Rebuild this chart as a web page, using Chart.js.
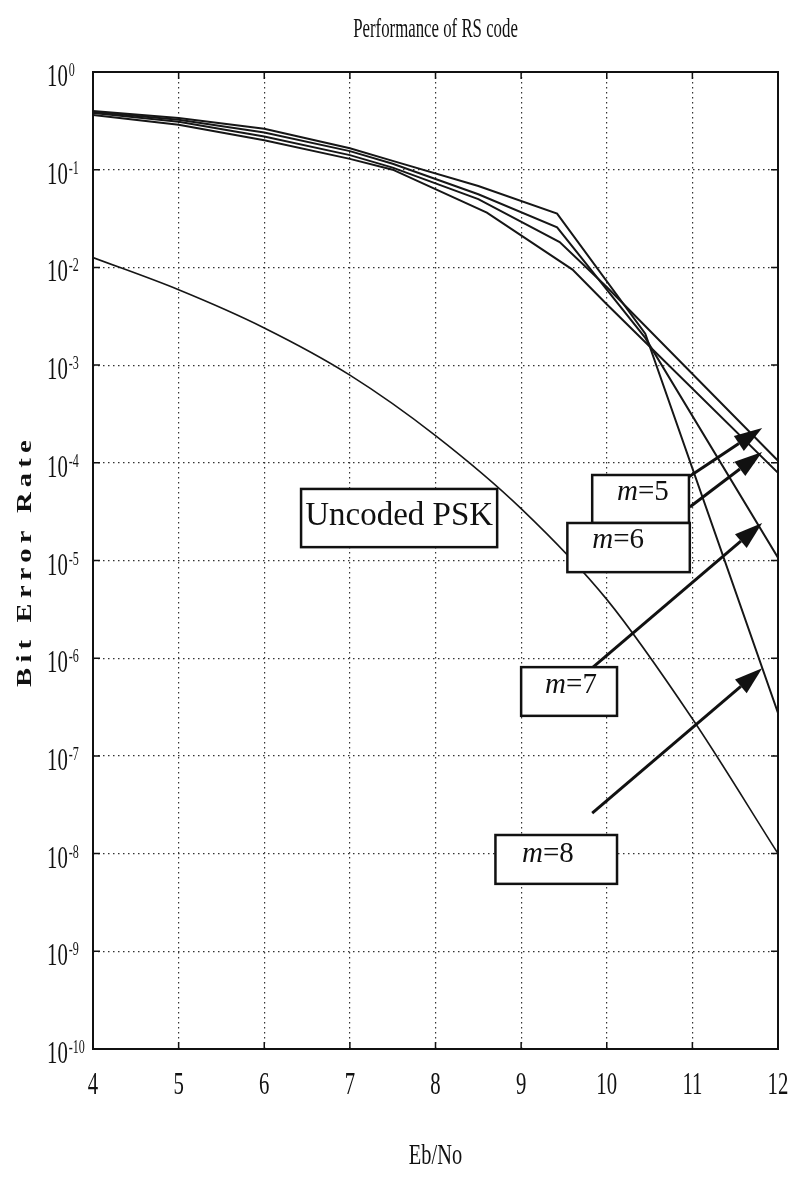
<!DOCTYPE html>
<html>
<head>
<meta charset="utf-8">
<title>Performance of RS code</title>
<script src="https://cdn.jsdelivr.net/npm/chart.js@4.4.1/dist/chart.umd.min.js"></script>
<style>
  html, body { margin: 0; padding: 0; background: #fff; }
</style>
</head>
<body>
<canvas id="rs-chart" width="791" height="1177"></canvas>
<script>
// axis ticks
var xTicks = [4, 5, 6, 7, 8, 9, 10, 11, 12];
var yExponents = [0, -1, -2, -3, -4, -5, -6, -7, -8, -9, -10];

// uncoded PSK
var uncodedEbNo = [4, 5, 6, 7, 8, 9, 10, 11, 12];
var uncodedBer = [1.26e-2, 5.9e-3, 2.4e-3, 7.9e-4, 1.9e-4, 3.4e-5, 4.0e-6, 2.4e-7, 1.0e-8];

// RS coded, m = 5..8
var m5EbNo = [4, 5, 6, 7, 7.5, 8.6, 9.6, 10, 12];
var m5Ber = [0.363, 0.288, 0.200, 0.129, 0.100, 3.63e-2, 9.5e-3, 4.2e-3, 7.9e-5];
var m6EbNo = [4, 5, 6, 7, 7.5, 8.5, 9.45, 10, 12];
var m6Ber = [0.380, 0.309, 0.219, 0.141, 0.105, 5.0e-2, 1.82e-2, 6.3e-3, 1.05e-4];
var m7EbNo = [4, 5, 6, 7, 7.5, 8.5, 9.42, 10.45, 12];
var m7Ber = [0.389, 0.324, 0.240, 0.155, 0.115, 5.6e-2, 2.57e-2, 1.9e-3, 1.07e-5];
var m8EbNo = [4, 5, 6, 7, 7.5, 8.5, 9.42, 10.45, 12];
var m8Ber = [0.398, 0.339, 0.263, 0.166, 0.123, 6.8e-2, 3.55e-2, 2.1e-3, 2.75e-7];

// annotation boxes / labels / arrows, in data units (Eb/No, BER)
var boxes = [
  {x0: 6.43, x1: 8.72, y0: 5.4e-5, y1: 1.37e-5},
  {x0: 9.83, x1: 10.96, y0: 7.5e-5, y1: 2.42e-5},
  {x0: 9.54, x1: 10.97, y0: 2.42e-5, y1: 7.6e-6},
  {x0: 9.0, x1: 10.12, y0: 8.1e-7, y1: 2.57e-7},
  {x0: 8.70, x1: 10.12, y0: 1.55e-8, y1: 4.9e-9}
];
var labels = [
  {text: 'Uncoded PSK', x: 7.575, y: 2.31e-5, center: true},
  {m: '5', x: 10.12, y: 4.16e-5},
  {m: '6', x: 9.83, y: 1.34e-5},
  {m: '7', x: 9.28, y: 4.4e-7},
  {m: '8', x: 9.01, y: 8.2e-9}
];
var arrows = [
  {x0: 10.96, y0: 7.2e-5, x1: 11.815, y1: 2.27e-4},
  {x0: 10.97, y0: 3.53e-5, x1: 11.815, y1: 1.29e-4},
  {x0: 9.84, y0: 8.1e-7, x1: 11.815, y1: 2.42e-5},
  {x0: 9.83, y0: 2.6e-8, x1: 11.815, y1: 7.9e-7}
];

function pts(xs, ys) {
  return xs.map(function(x, i) { return {x: x, y: ys[i]}; });
}

function curve(label, xs, ys, w, smooth) {
  return {
    label: label,
    data: pts(xs, ys),
    showLine: true,
    borderColor: '#161616',
    borderWidth: w,
    pointRadius: 0,
    fill: false,
    cubicInterpolationMode: smooth ? 'monotone' : 'default',
    tension: 0
  };
}

// narrow serif text (the original uses a condensed Times)
function narrowText(c, str, x, y, font, sx, align) {
  c.save();
  c.font = font;
  c.textAlign = align || 'left';
  c.textBaseline = 'alphabetic';
  c.translate(x, y);
  c.scale(sx, 1);
  c.fillText(str, 0, 0);
  var w = c.measureText(str).width * sx;
  c.restore();
  return w;
}

var decor = {
  id: 'decor',
  afterDraw: function(chart) {
    var c = chart.ctx, a = chart.chartArea;
    var xs = chart.scales.x, ys = chart.scales.y;
    var serif = '"Liberation Serif", "Times New Roman", serif';
    c.save();
    c.fillStyle = '#111';
    c.strokeStyle = '#111';

    // frame + short solid tick stubs
    c.lineWidth = 2;
    c.strokeRect(a.left, a.top, a.right - a.left, a.bottom - a.top);
    c.lineWidth = 1.5;
    c.beginPath();
    xs.ticks.forEach(function(t) {
      var px = xs.getPixelForValue(t.value);
      c.moveTo(px, a.bottom); c.lineTo(px, a.bottom - 7);
      c.moveTo(px, a.top); c.lineTo(px, a.top + 7);
    });
    ys.ticks.forEach(function(t) {
      var py = ys.getPixelForValue(t.value);
      c.moveTo(a.left, py); c.lineTo(a.left + 7, py);
      c.moveTo(a.right, py); c.lineTo(a.right - 7, py);
    });
    c.stroke();

    // tick labels
    ys.ticks.forEach(function(t) {
      var py = ys.getPixelForValue(t.value);
      var e = Math.round(Math.log10(t.value));
      var w = narrowText(c, '10', 47, py + 14, '31px ' + serif, 0.67);
      narrowText(c, e === 0 ? '0' : '-' + Math.abs(e), 47 + w + 1, py + 4, '18px ' + serif, 0.67);
    });
    xs.ticks.forEach(function(t) {
      var px = xs.getPixelForValue(t.value);
      narrowText(c, String(t.value), px, a.bottom + 45, '31px ' + serif, 0.67, 'center');
    });

    // titles
    var mid = (a.left + a.right) / 2;
    narrowText(c, 'Performance of RS code', mid, 37, '28px ' + serif, 0.6, 'center');
    narrowText(c, 'Eb/No', mid, 1164, '30px ' + serif, 0.68, 'center');

    c.save();
    c.translate(25, 561);
    c.rotate(-Math.PI / 2);
    c.scale(1.3, 1);
    c.font = 'bold 22px ' + serif;
    c.letterSpacing = '4px';
    c.textAlign = 'center';
    c.textBaseline = 'middle';
    c.fillText('Bit Error Rate', 0, 0);
    c.restore();

    // annotation boxes
    c.lineWidth = 2.5;
    boxes.forEach(function(b) {
      var x0 = xs.getPixelForValue(b.x0), x1 = xs.getPixelForValue(b.x1);
      var y0 = ys.getPixelForValue(b.y0), y1 = ys.getPixelForValue(b.y1);
      c.fillStyle = '#fff';
      c.fillRect(x0, y0, x1 - x0, y1 - y0);
      c.strokeRect(x0, y0, x1 - x0, y1 - y0);
    });

    // arrows
    c.fillStyle = '#111';
    arrows.forEach(function(r) {
      var x0 = xs.getPixelForValue(r.x0), y0 = ys.getPixelForValue(r.y0);
      var x1 = xs.getPixelForValue(r.x1), y1 = ys.getPixelForValue(r.y1);
      var ang = Math.atan2(y1 - y0, x1 - x0);
      var hl = 28, hw = 9;
      var bx = x1 - hl * Math.cos(ang), by = y1 - hl * Math.sin(ang);
      c.lineWidth = 3;
      c.beginPath();
      c.moveTo(x0, y0);
      c.lineTo(bx, by);
      c.stroke();
      c.beginPath();
      c.moveTo(x1, y1);
      c.lineTo(bx + hw * Math.sin(ang), by - hw * Math.cos(ang));
      c.lineTo(bx - hw * Math.sin(ang), by + hw * Math.cos(ang));
      c.closePath();
      c.fill();
    });

    // labels
    labels.forEach(function(l) {
      var px = xs.getPixelForValue(l.x), py = ys.getPixelForValue(l.y);
      c.textBaseline = 'alphabetic';
      if (l.text) {
        c.font = '33px ' + serif;
        c.textAlign = l.center ? 'center' : 'left';
        c.fillText(l.text, px, py);
      } else {
        c.textAlign = 'left';
        c.font = 'italic 29px ' + serif;
        c.fillText('m', px, py);
        var w = c.measureText('m').width;
        c.font = '29px ' + serif;
        c.fillText('=' + l.m, px + w, py);
      }
    });
    c.restore();
  }
};

var gridStyle = {color: '#333', lineWidth: 1.2, drawTicks: false};
var borderStyle = {display: false, dash: [1.5, 3.5]};

var ctx = document.getElementById('rs-chart').getContext('2d');
new Chart(ctx, {
  type: 'scatter',
  data: {
    datasets: [
      curve('Uncoded PSK', uncodedEbNo, uncodedBer, 1.6, true),
      curve('m=5', m5EbNo, m5Ber, 2),
      curve('m=6', m6EbNo, m6Ber, 2),
      curve('m=7', m7EbNo, m7Ber, 2),
      curve('m=8', m8EbNo, m8Ber, 2)
    ]
  },
  options: {
    responsive: false,
    animation: false,
    devicePixelRatio: 1,
    layout: { padding: {left: 93, right: 13, top: 72, bottom: 128} },
    plugins: {
      legend: { display: false },
      tooltip: { enabled: false },
      title: { display: false }
    },
    scales: {
      x: {
        type: 'linear',
        min: 4,
        max: 12,
        afterBuildTicks: function(s) {
          s.ticks = xTicks.map(function(v) { return {value: v}; });
        },
        ticks: { display: false },
        grid: gridStyle,
        border: borderStyle
      },
      y: {
        type: 'logarithmic',
        min: 1e-10,
        max: 1,
        afterBuildTicks: function(s) {
          s.ticks = yExponents.map(function(e) { return {value: Math.pow(10, e)}; });
        },
        ticks: { display: false },
        grid: gridStyle,
        border: borderStyle
      }
    }
  },
  plugins: [decor]
});
</script>
</body>
</html>
